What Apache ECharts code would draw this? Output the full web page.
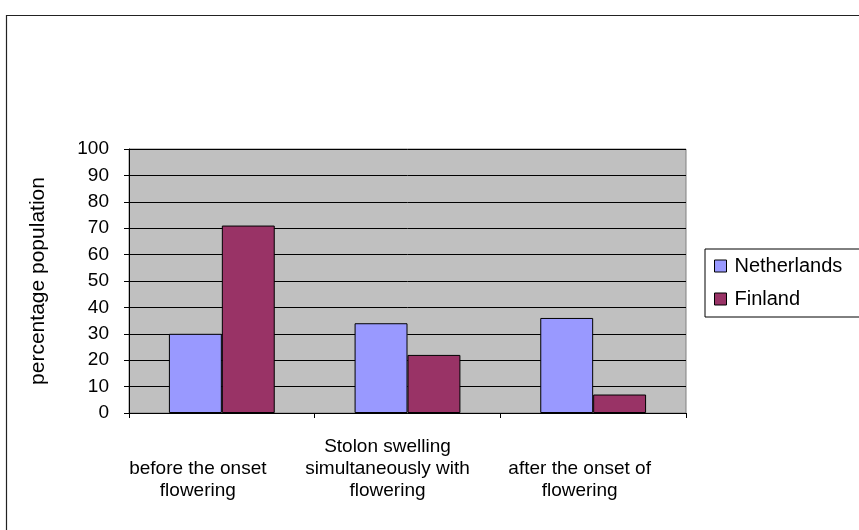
<!DOCTYPE html>
<html>
<head>
<meta charset="utf-8">
<script src="https://cdn.jsdelivr.net/npm/echarts@6/dist/echarts.min.js"></script>
<style>
  html, body { margin: 0; padding: 0; background: #fff; }
  #chart { width: 859px; height: 530px; }
</style>
</head>
<body>
<div id="chart"></div>
<script>
// Timing of stolon swelling relative to flowering, by origin
const categories = [
  'before the onset\nflowering',
  'Stolon swelling\nsimultaneously with\nflowering',
  'after the onset of\nflowering'
];
const netherlands = [30, 34, 36];
const finland = [71, 22, 7];
const yTicks = { min: 0, max: 100, interval: 10 };

const FONT = '"Liberation Sans", Arial, sans-serif';

// per-category label styles; right padding nudges each wrapped label left of its slot centre
const labelRich = {
  c0: { fontFamily: FONT, fontSize: 19, color: '#000', lineHeight: 22, padding: [0, 48, 0, 0] },
  c1: { fontFamily: FONT, fontSize: 19, color: '#000', lineHeight: 22, padding: [0, 40, 0, 0] },
  c2: { fontFamily: FONT, fontSize: 19, color: '#000', lineHeight: 22, padding: [0, 27, 0, 0] }
};

const chart = echarts.init(document.getElementById('chart'), null, { renderer: 'canvas' });

chart.setOption({
  animation: false,
  backgroundColor: '#ffffff',
  textStyle: { fontFamily: FONT, color: '#000' },
  graphic: [{
    type: 'rect',
    shape: { x: 6.5, y: 15.5, width: 900, height: 600 },
    style: { fill: 'none', stroke: '#222', lineWidth: 1.2 },
    silent: true,
    z: 0
  }],
  grid: {
    left: 129, top: 149, right: 173, bottom: 117,
    show: true,
    backgroundColor: '#c0c0c0',
    borderColor: '#808080',
    borderWidth: 1
  },
  legend: {
    orient: 'vertical',
    left: 705, top: 249,
    padding: [7, 80, 8, 9],
    itemGap: 13,
    itemWidth: 12, itemHeight: 12,
    icon: 'rect',
    borderColor: '#000', borderWidth: 1,
    backgroundColor: '#fff',
    textStyle: { fontFamily: FONT, fontSize: 20, color: '#000', padding: [0, 0, 0, 3] },
    itemStyle: { borderColor: '#000', borderWidth: 1 },
    data: ['Netherlands', 'Finland']
  },
  xAxis: {
    type: 'category',
    data: categories,
    boundaryGap: true,
    axisLine: { show: true, lineStyle: { color: '#000', width: 1 } },
    axisTick: { show: true, length: 5, interval: 0, alignWithLabel: false, lineStyle: { color: '#000' } },
    axisLabel: {
      interval: 0,
      margin: 89,
      verticalAlign: 'bottom',
      align: 'center',
      fontFamily: FONT, fontSize: 19, color: '#000', lineHeight: 22,
      formatter: function (value, index) {
        return value.split('\n').map(function (line) {
          return '{c' + index + '|' + line + '}';
        }).join('\n');
      },
      rich: labelRich
    },
    splitLine: { show: false }
  },
  yAxis: {
    type: 'value',
    min: yTicks.min, max: yTicks.max, interval: yTicks.interval,
    name: 'percentage population',
    nameLocation: 'middle',
    nameRotate: 90,
    nameGap: 80,
    nameTextStyle: { fontFamily: FONT, fontSize: 21, color: '#000' },
    axisLine: { show: true, lineStyle: { color: '#000', width: 1 } },
    axisTick: { show: true, length: 5, lineStyle: { color: '#000' } },
    axisLabel: { margin: 20, fontFamily: FONT, fontSize: 19, color: '#000' },
    splitLine: { show: true, lineStyle: { color: '#000', width: 1 } }
  },
  series: [
    {
      name: 'Netherlands',
      type: 'bar',
      data: netherlands,
      barGap: '0%',
      barCategoryGap: '43%',
      itemStyle: { color: '#9999ff', borderColor: '#000', borderWidth: 1 }
    },
    {
      name: 'Finland',
      type: 'bar',
      data: finland,
      barGap: '0%',
      barCategoryGap: '43%',
      itemStyle: { color: '#993366', borderColor: '#000', borderWidth: 1 }
    }
  ]
});
</script>
</body>
</html>
